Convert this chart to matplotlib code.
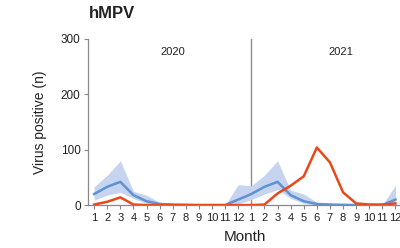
import matplotlib

matplotlib.use("Agg")

import matplotlib.pyplot as plt
import numpy as np

# months Jan 2020 .. Dec 2021
month_labels = [str(m) for m in range(1, 13)] * 2
years = ["2020", "2021"]

# historical mean (blue) with its range (band)
hist_mean = [20, 33, 42, 18, 7, 2, 1, 0.5, 0, 0, 0, 10,
             20, 33, 42, 18, 7, 2, 1, 0.5, 0, 0, 0, 10]
hist_low = [9, 18, 23, 12, 3, 0, 0, 0, 0, 0, 0, 2,
            10, 20, 28, 12, 3, 0, 0, 0, 0, 0, 0, 2]
hist_high = [33, 54, 80, 25, 18, 5, 3, 2, 1, 0, 0, 37,
             35, 54, 80, 27, 20, 5, 3, 2, 1, 0, 0, 36]

# observed positives (red)
observed = [1, 6, 14, 1, 0, 0, 0, 0, 0, 0, 0, 0,
            0, 1, 21, 35, 52, 104, 77, 23, 3, 1, 1, 3]

plt.rcParams.update({"font.family": ["Liberation Sans", "DejaVu Sans"]})

fig = plt.figure(figsize=(4.0, 2.48), dpi=100)
ax = fig.add_axes([0.219, 0.173, 0.786, 0.670])

x = np.arange(1, len(month_labels) + 1)
ax.fill_between(x, hist_low, hist_high, color="#c6d4ef", linewidth=0, zorder=1)
ax.plot(x, hist_mean, color="#5e93d1", linewidth=1.8, zorder=2)
ax.plot(x, observed, color="#e8481c", linewidth=1.8, zorder=3)
ax.axvline(13, color="#8c8c8c", linewidth=1.0, zorder=0)

ax.text(7, 277, years[0], ha="center", va="center", fontsize=8, color="#222222")
ax.text(19.8, 277, years[1], ha="center", va="center", fontsize=8, color="#222222")

ax.set_xlim(0.5, 24.5)
ax.set_ylim(0, 300)
ax.set_yticks([0, 100, 200, 300])
ax.set_xticks(x)
ax.set_xticklabels(month_labels)
ax.tick_params(axis="x", labelsize=8, length=3, width=0.8, color="#888888",
               labelcolor="#222222", pad=2.5)
ax.tick_params(axis="y", labelsize=8.5, length=3, width=0.8, color="#888888",
               labelcolor="#222222", pad=2)
for s in ("top", "right"):
    ax.spines[s].set_visible(False)
for s in ("left", "bottom"):
    ax.spines[s].set_color("#888888")
    ax.spines[s].set_linewidth(0.9)

ax.set_ylabel("Virus positive (n)", fontsize=10, color="#222222", labelpad=10)
ax.set_xlabel("Month", fontsize=11, color="#222222", labelpad=5)
fig.text(0.28, 0.945, "hMPV", ha="center", va="center", fontsize=12,
         fontweight="bold", color="#222222")

fig.savefig("out.png", dpi=100)
plt.close(fig)
